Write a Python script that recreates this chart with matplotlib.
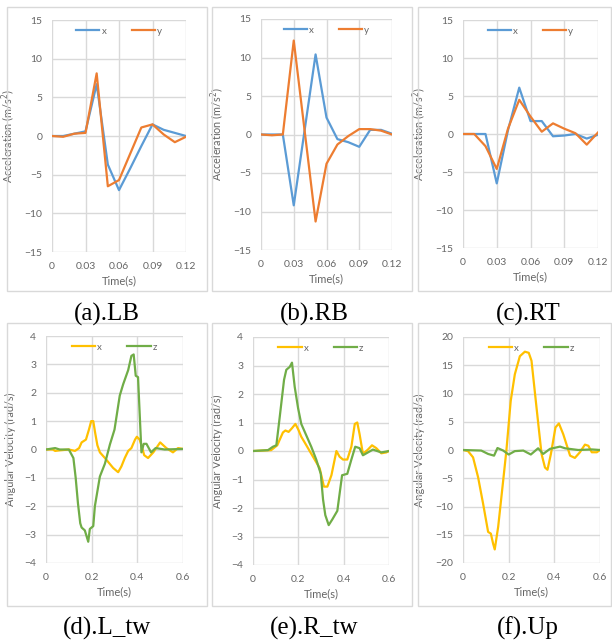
import numpy as np
import matplotlib
matplotlib.use("Agg")
import matplotlib.pyplot as plt
from matplotlib.patches import Rectangle

plt.rcParams['font.family'] = ['Lato', 'DejaVu Sans']

# ----------------------------
# data
# ----------------------------
t_acc = [0, 0.01, 0.02, 0.03, 0.04, 0.05, 0.06, 0.07, 0.08, 0.09, 0.10, 0.11, 0.12]

lb_x = [0, 0, 0.3, 0.6, 6.7, -3.7, -7.0, -4.2, -1.3, 1.5, 0.8, 0.4, 0]
lb_y = [0, -0.1, 0.3, 0.4, 8.1, -6.5, -5.7, -2.3, 1.1, 1.5, 0.2, -0.8, -0.1]

rb_x = [0, 0, 0, -9.2, 0.6, 10.4, 2.2, -0.6, -1.0, -1.6, 0.6, 0.6, 0.1]
rb_y = [0, -0.1, 0, 12.2, 0.45, -11.3, -3.8, -1.3, -0.2, 0.7, 0.7, 0.5, 0]

rt_x = [0, 0, 0, -6.5, 0.5, 6.1, 1.7, 1.7, -0.3, -0.2, 0, -0.6, -0.1]
rt_y = [0, 0, -1.6, -4.6, 0.7, 4.5, 2.3, 0.3, 1.4, 0.7, 0.1, -1.4, 0.2]

ltw_x_t = [0, 0.03, 0.04, 0.06, 0.1, 0.127, 0.145, 0.156, 0.175, 0.188, 0.198, 0.207, 0.215,
           0.225, 0.236, 0.258, 0.294, 0.316, 0.33, 0.345, 0.36, 0.374, 0.39, 0.398, 0.41,
           0.42, 0.43, 0.447, 0.47, 0.5, 0.527, 0.556, 0.578, 0.6]
ltw_x = [0, 0, -0.05, -0.03, 0, -0.05, 0.05, 0.25, 0.35, 0.7, 1.0, 1.0, 0.6,
         0.15, -0.1, -0.3, -0.65, -0.8, -0.6, -0.3, -0.05, 0.05, 0.35, 0.45, 0.35,
         0.1, -0.2, -0.3, -0.1, 0.25, 0.05, -0.1, 0.05, 0.02]
ltw_z_t = [0, 0.04, 0.06, 0.10, 0.12, 0.13, 0.14, 0.15, 0.156, 0.17, 0.185, 0.192, 0.207,
           0.214, 0.236, 0.258, 0.28, 0.30, 0.323, 0.338, 0.36, 0.374, 0.384, 0.393, 0.403,
           0.418, 0.428, 0.44, 0.46, 0.48, 0.52, 0.6]
ltw_z = [0, 0.05, 0, 0, -0.3, -1.0, -1.9, -2.6, -2.75, -2.85, -3.25, -2.8, -2.7,
         -2.0, -0.95, -0.5, 0.18, 0.7, 1.9, 2.3, 2.8, 3.3, 3.35, 2.6, 2.55,
         -0.1, 0.2, 0.2, -0.1, 0.05, 0.0, 0.02]

rtw_x_t = [0, 0.08, 0.107, 0.132, 0.143, 0.157, 0.172, 0.187, 0.2, 0.213, 0.228, 0.25,
           0.272, 0.294, 0.313, 0.328, 0.346, 0.368, 0.382, 0.397, 0.416, 0.434, 0.449,
           0.46, 0.47, 0.485, 0.507, 0.525, 0.544, 0.566, 0.588, 0.6]
rtw_x = [0, 0.03, 0.2, 0.65, 0.72, 0.67, 0.8, 0.95, 0.75, 0.5, 0.3, 0,
         -0.3, -0.6, -1.25, -1.25, -0.85, 0, -0.2, -0.3, -0.3, 0.15, 0.95,
         1.0, 0.6, -0.1, 0.05, 0.2, 0.1, -0.08, -0.05, 0]
rtw_z_t = [0, 0.066, 0.088, 0.103, 0.118, 0.137, 0.147, 0.162, 0.172, 0.184, 0.199, 0.213,
           0.235, 0.257, 0.279, 0.299, 0.309, 0.319, 0.334, 0.35, 0.372, 0.393, 0.416,
           0.434, 0.451, 0.47, 0.485, 0.507, 0.529, 0.566, 0.6]
rtw_z = [0, 0.03, 0.15, 0.2, 1.2, 2.5, 2.85, 2.95, 3.1, 2.25, 1.5, 0.95,
         0.55, 0.15, -0.3, -0.8, -1.7, -2.25, -2.6, -2.4, -2.1, -0.85, -0.8,
         -0.3, 0.15, 0.1, -0.15, -0.05, 0.05, -0.05, 0]

up_x_t = [0, 0.022, 0.044, 0.066, 0.088, 0.11, 0.122, 0.132, 0.139, 0.154, 0.176, 0.19,
          0.209, 0.227, 0.249, 0.271, 0.288, 0.3, 0.322, 0.344, 0.359, 0.37, 0.385, 0.405,
          0.42, 0.439, 0.469, 0.49, 0.512, 0.534, 0.549, 0.564, 0.586, 0.6]
up_x = [0, -0.2, -1.3, -4.8, -9.5, -14.5, -14.8, -16.6, -17.6, -13.6, -5.4, -0.1,
        8.7, 13.4, 16.6, 17.4, 17.2, 15.8, 7.5, -0.7, -3.1, -3.5, -0.7, 4.0,
        4.7, 2.8, -1.0, -1.4, -0.4, 0.95, 0.75, -0.4, -0.4, 0]
up_z_t = [0, 0.08, 0.11, 0.136, 0.151, 0.176, 0.2, 0.227, 0.264, 0.297, 0.329, 0.351,
          0.381, 0.425, 0.447, 0.505, 0.564, 0.6]
up_z = [0, -0.1, -0.7, -1.0, 0.35, -0.1, -0.8, -0.2, -0.1, -0.8, 0.3, -0.7,
        0.2, 0.6, 0.3, 0, 0.1, 0]

acc_ticks = [0, 0.03, 0.06, 0.09, 0.12]
acc_ticklabels = ["0", "0.03", "0.06", "0.09", "0.12"]
ang_ticks = [0, 0.2, 0.4, 0.6]
ang_ticklabels = ["0", "0.2", "0.4", "0.6"]

captions = ["(a).LB", "(b).RB", "(c).RT", "(d).L_tw", "(e).R_tw", "(f).Up"]

BLUE = "#5B9BD5"
ORANGE = "#ED7D31"
YELLOW = "#FFC000"
GREEN = "#70AD47"
GRID = "#D9D9D9"
TXT = "#666666"

W, H = 612, 641
fig = plt.figure(figsize=(W / 100, H / 100), dpi=100)


def px_axes(x0, x1, y0, y1):
    return fig.add_axes([x0 / W, 1 - y1 / H, (x1 - x0) / W, (y1 - y0) / H])


def style(ax, xticks, xlabels, yticks, ylim, ylabel, label_dx):
    ax.set_xlim(xticks[0], xticks[-1])
    ax.set_ylim(*ylim)
    ax.set_xticks(xticks)
    ax.set_xticklabels(xlabels)
    ax.set_yticks(yticks)
    ax.grid(True, color=GRID, linewidth=1)
    ax.set_axisbelow(True)
    for s in ax.spines.values():
        s.set_visible(False)
    ax.tick_params(length=0, labelsize=7.5, colors=TXT, pad=7)
    ax.set_xlabel("Time(s)", fontsize=8, color=TXT, labelpad=3)
    ax.set_ylabel(ylabel, fontsize=7.8, color=TXT)
    ax.yaxis.set_label_coords(label_dx, 0.5)
    ax.legend(loc="upper center", bbox_to_anchor=(0.5, 1.0), ncol=2, frameon=False,
              fontsize=7, handlelength=2.4, columnspacing=2.6, handletextpad=0.2,
              labelcolor=TXT, borderaxespad=0.3)


# frames around each chart
for x0, x1 in [(7, 207), (212, 412), (418, 611)]:
    for y0, y1 in [(7, 291), (323, 606)]:
        fig.patches.append(Rectangle((x0 / W, 1 - y1 / H), (x1 - x0) / W, (y1 - y0) / H,
                                     transform=fig.transFigure, fill=False,
                                     edgecolor=GRID, linewidth=1))

acc_label = "Acceleration (m/s$^2$)"
top_boxes = [(52, 186, 20, 252), (261, 392, 19, 250), (463, 598, 20, 248)]
top_data = [(lb_x, lb_y), (rb_x, rb_y), (rt_x, rt_y)]
for (x0, x1, y0, y1), (sx, sy) in zip(top_boxes, top_data):
    ax = px_axes(x0, x1, y0, y1)
    ax.plot(t_acc, sx, color=BLUE, lw=1.6, label="x")
    ax.plot(t_acc, sy, color=ORANGE, lw=1.6, label="y")
    style(ax, acc_ticks, acc_ticklabels, [-15, -10, -5, 0, 5, 10, 15], (-15, 15),
          acc_label, -35 / (x1 - x0))

ang_label = "Angular Velocity (rad/s)"
bot_boxes = [(46, 183, 336, 563), (253, 389, 337, 565), (463, 600, 337, 563)]
bot_data = [(ltw_x_t, ltw_x, ltw_z_t, ltw_z), (rtw_x_t, rtw_x, rtw_z_t, rtw_z),
            (up_x_t, up_x, up_z_t, up_z)]
for i, ((x0, x1, y0, y1), (tx, vx, tz, vz)) in enumerate(zip(bot_boxes, bot_data)):
    ax = px_axes(x0, x1, y0, y1)
    ax.plot(tx, vx, color=YELLOW, lw=1.6, label="x")
    ax.plot(tz, vz, color=GREEN, lw=1.6, label="z")
    if i < 2:
        yt, yl = [-4, -3, -2, -1, 0, 1, 2, 3, 4], (-4, 4)
    else:
        yt, yl = [-20, -15, -10, -5, 0, 5, 10, 15, 20], (-20, 20)
    style(ax, ang_ticks, ang_ticklabels, yt, yl, ang_label, -30 / (x1 - x0) if i < 2 else -38 / (x1 - x0))

# captions under each chart
for i, cap in enumerate(captions):
    cx = [107, 314, 528][i % 3]
    cy = 314 if i < 3 else 628
    fig.text(cx / W, 1 - cy / H, cap, ha="center", va="center",
             fontsize=18, family="Liberation Serif", color="black")

fig.savefig("out.png", dpi=100, facecolor="white")
